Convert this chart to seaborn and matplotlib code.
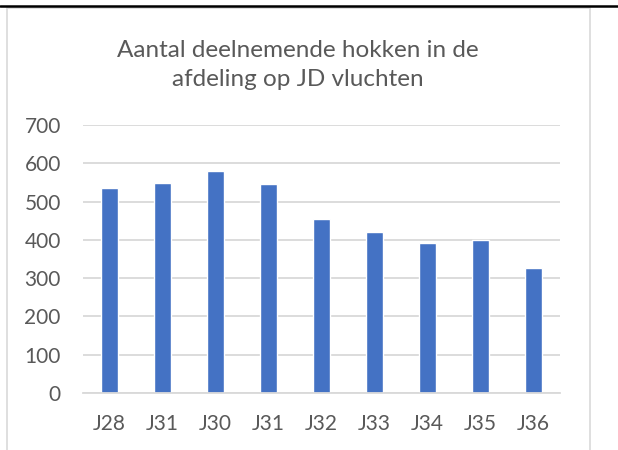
import numpy as np
import matplotlib.pyplot as plt
from matplotlib.lines import Line2D
import seaborn as sns

# gegevens
vluchten = ["J28", "J31", "J30", "J31", "J32", "J33", "J34", "J35", "J36"]
deelnemers = [535, 549, 579, 547, 455, 420, 392, 399, 327]
y_ticks = [0, 100, 200, 300, 400, 500, 600, 700]

sns.set_theme(style="white")
plt.rcParams["font.family"] = ["Lato", "DejaVu Sans"]

tekst_kleur = "#595959"
fig = plt.figure(figsize=(6.18, 4.5), dpi=100)
ax = fig.add_axes([83 / 618, 1 - 393 / 450, 477 / 618, 268 / 450])

# positie per vlucht, want J31 komt twee keer voor
pos = np.arange(len(vluchten))
sns.barplot(x=pos, y=deelnemers, color="#4472C4", saturation=1, width=0.32, ax=ax)

ax.set_ylim(0, 700)
ax.set_xlim(-0.5, len(vluchten) - 0.5)
ax.set_yticks(y_ticks)
ax.set_xticks(pos, vluchten)
ax.yaxis.grid(True, color="#D9D9D9", linewidth=1.3)
ax.set_axisbelow(True)
for s in ["top", "right", "left"]:
    ax.spines[s].set_visible(False)
ax.spines["bottom"].set_color("#D9D9D9")
ax.spines["bottom"].set_linewidth(1.3)
ax.tick_params(axis="both", length=0, labelsize=15, labelcolor=tekst_kleur)
ax.tick_params(axis="y", pad=16)
ax.tick_params(axis="x", pad=15)
ax.set_xlabel("")
ax.set_ylabel("")

fig.text(298 / 618, 1 - 65 / 450, "Aantal deelnemende hokken in de\nafdeling op JD vluchten",
         ha="center", va="center", fontsize=17.5, color=tekst_kleur, linespacing=1.5)

# kader van het grafiekgebied
fig.add_artist(Line2D([7 / 618, 7 / 618], [0, 1 - 8 / 450], color="#D9D9D9", lw=1.2))
fig.add_artist(Line2D([590 / 618, 590 / 618], [0, 1 - 8 / 450], color="#D9D9D9", lw=1.2))
fig.add_artist(Line2D([7 / 618, 590 / 618], [1 - 8 / 450, 1 - 8 / 450], color="#D9D9D9", lw=1.2))
fig.add_artist(Line2D([0, 1], [1 - 5.5 / 450, 1 - 5.5 / 450], color="black", lw=1.8))

fig.savefig("out.png", dpi=100)
